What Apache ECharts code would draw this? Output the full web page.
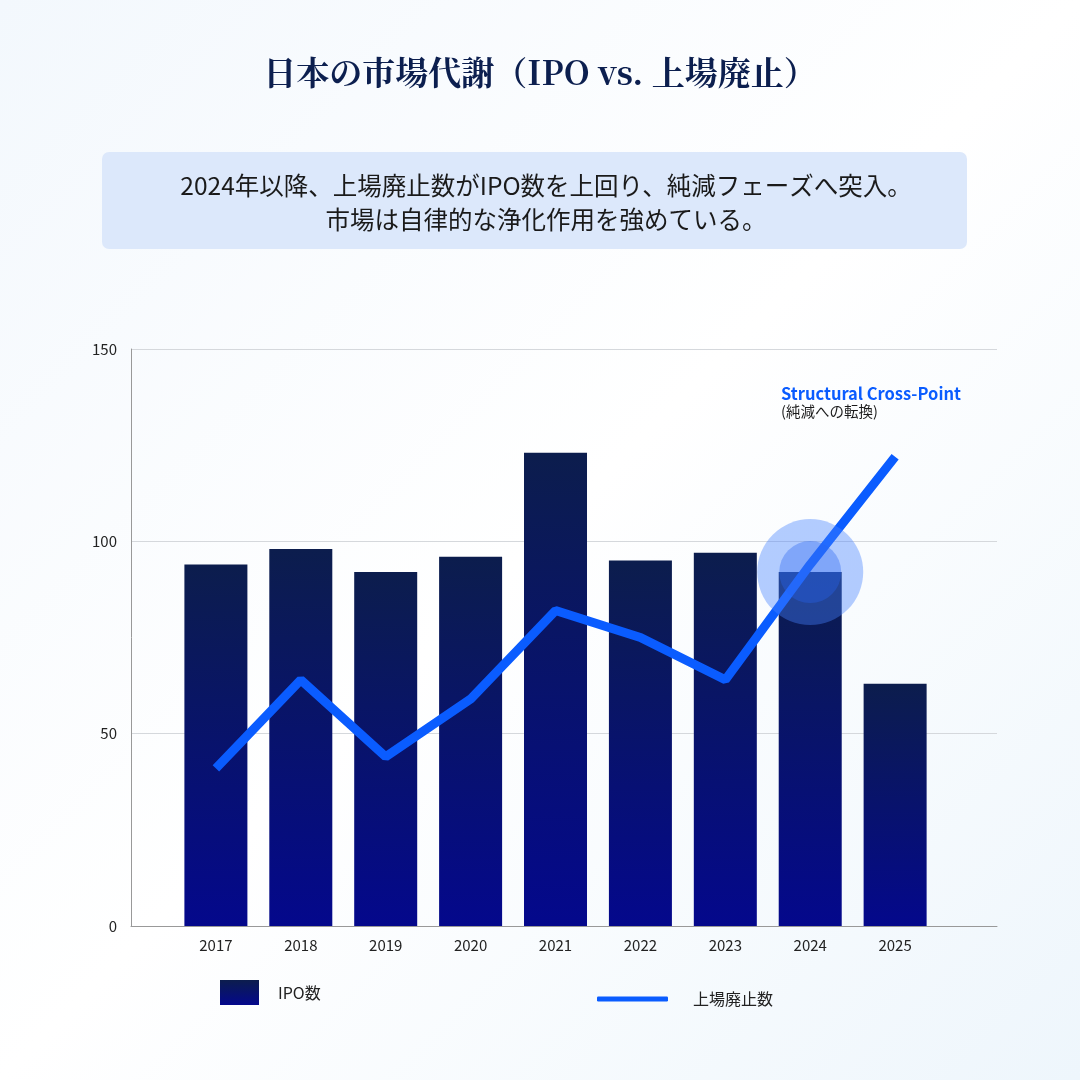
<!DOCTYPE html>
<html><head><meta charset="utf-8">
<script src="https://cdn.jsdelivr.net/npm/echarts@6/dist/echarts.min.js"></script>
<style>html,body{margin:0;padding:0;}#c{width:1080px;height:1080px;}</style>
</head><body><div id="c"></div>
<script>
const years = ['2017','2018','2019','2020','2021','2022','2023','2024','2025'];
const ipoCounts = [94, 98, 92, 96, 123, 95, 97, 92, 63];
const delistCounts = [41, 64, 44, 59, 82, 75, 64, 94, 122];
const highlightIndex = 7;
const highlightValue = 92;
const yTicks = [0, 50, 100, 150];

const font = '"Noto Sans CJK JP", "Noto Sans", sans-serif';
const chart = echarts.init(document.getElementById('c'));
chart.setOption({
  backgroundColor: new echarts.graphic.LinearGradient(0,0,1,1,[{offset:0,color:'#f3f8fd'},{offset:0.5,color:'#ffffff'},{offset:1,color:'#eef6fc'}]),
  textStyle:{fontFamily:font},
  graphic:[
    {type:'text',left:'center',top:56,style:{text:'日本の市場代謝（IPO vs. 上場廃止）',font:'bold 33px "Noto Serif CJK JP","Noto Sans CJK JP",serif',fill:'#0c1f4f'}},
    {type:'rect',shape:{x:102,y:152,width:865,height:97,r:7},style:{fill:'#dce8fb'}},
    {type:'text',x:546,y:186,style:{text:'2024年以降、上場廃止数がIPO数を上回り、純減フェーズへ突入。',font:'24.5px '+font,fill:'#1a1a1a',align:'center',verticalAlign:'middle'}},
    {type:'text',x:546,y:220,style:{text:'市場は自律的な浄化作用を強めている。',font:'24.5px '+font,fill:'#1a1a1a',align:'center',verticalAlign:'middle'}},
    {type:'text',x:781,y:385,style:{text:'Structural Cross-Point',font:'bold 16.5px '+font,fill:'#0a5cff'}},
    {type:'text',x:781,y:404,style:{text:'(純減への転換)',font:'14.5px '+font,fill:'#1a1a1a'}}
  ],
  grid:{left:131,right:83,top:349,bottom:154},
  legend:[
    {data:[{name:'IPO数',icon:'rect'}],left:215,top:975,itemWidth:39,itemHeight:25,textStyle:{fontSize:16,color:'#222',fontFamily:font,padding:[0,0,0,14]}},
    {data:[{name:'上場廃止数',icon:'roundRect'}],left:592,top:986,itemWidth:71,itemHeight:5,
      itemStyle:{color:'#0a5cff'},lineStyle:{width:0},textStyle:{fontSize:16,color:'#222',fontFamily:font,padding:[0,0,0,20]}}
  ],
  xAxis:{type:'value',min:-1,max:9.2,interval:1,
    axisLine:{show:true,lineStyle:{color:'#999'}},axisTick:{show:false},splitLine:{show:false},
    axisLabel:{showMaxLabel:false,color:'#222',fontSize:15,margin:12,formatter:v=>years[v]||''}},
  yAxis:{type:'value',min:0,max:150,interval:50,
    axisLine:{show:true,onZero:false,lineStyle:{color:'#999'}},axisTick:{show:false},
    splitLine:{lineStyle:{color:'#d5d8dc'}},
    axisLabel:{color:'#222',fontSize:15,margin:14,formatter:v=>yTicks.includes(v)?String(v):''}},
  series:[
    {name:'IPO数',type:'bar',barWidth:63,data:ipoCounts.map((v,i)=>[i,v]),
      itemStyle:{color:new echarts.graphic.LinearGradient(0,0,0,1,[{offset:0,color:'#0c1d4d'},{offset:1,color:'#04088c'}])}},
    {name:'上場廃止数',type:'line',data:delistCounts.map((v,i)=>[i,v]),symbol:'none',
      lineStyle:{color:'#0a5cff',width:9},itemStyle:{color:'#0a5cff'},z:3},
    {type:'scatter',data:[[highlightIndex,highlightValue]],symbolSize:106,silent:true,
      itemStyle:{color:'rgba(70,130,255,0.5)'},z:4},
    {type:'scatter',data:[[highlightIndex,highlightValue]],symbolSize:62,silent:true,
      itemStyle:{color:'rgba(40,100,240,0.45)'},z:5}
  ]
});
</script></body></html>
